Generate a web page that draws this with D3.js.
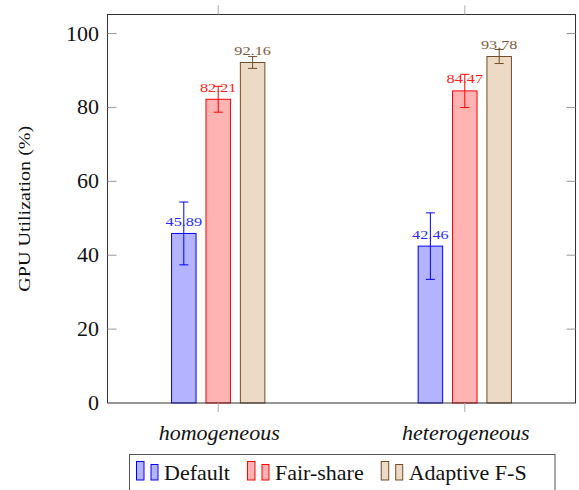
<!DOCTYPE html>
<html>
<head>
<meta charset="utf-8">
<script src="https://cdn.jsdelivr.net/npm/d3@7"></script>
<style>
  html, body { margin: 0; padding: 0; background: #fff; }
  svg { display: block; }
</style>
</head>
<body>
<svg id="chart" width="579" height="490"></svg>
<script>
// ---- data ----
const categories = ["homogeneous", "heterogeneous"];
const seriesNames = ["Default", "Fair-share", "Adaptive F-S"];
const defaultValues   = [45.89, 42.46];
const defaultErrors   = [8.5, 9.0];
const fairValues      = [82.21, 84.47];
const fairErrors      = [3.5, 4.5];
const adaptiveValues  = [92.16, 93.78];
const adaptiveErrors  = [1.6, 1.9];
const yTicks = [0, 20, 40, 60, 80, 100];

// ---- styles ----
const FONT = "Liberation Serif";
const strokes = ["#0000ff", "#ff0000", "#734d26"];
const fills   = ["#b3b3ff", "#ffb3b3", "#ecd9c6"];
const labelColors = ["#2a2aff", "#ff2020", "#7d5a3a"];

const series = [
  { name: seriesNames[0], values: defaultValues, errors: defaultErrors },
  { name: seriesNames[1], values: fairValues, errors: fairErrors },
  { name: seriesNames[2], values: adaptiveValues, errors: adaptiveErrors }
];

const svg = d3.select("#chart");
const L = 107.5, R = 575.5, T = 14.5, B = 403;

const y = d3.scaleLinear().domain([0, 105.15]).range([B, T]);
const x = d3.scalePoint().domain(categories).range([L, R]).padding(0.449);
const xs = d3.scaleBand().domain(seriesNames).range([-51.6, 51.6])
  .paddingInner(0.288).paddingOuter(0.144);

// small text, horizontally stretched (CM-like width)
function txtScaled(sel, px, py, sx, rot) {
  const t = sel.append("text").attr("font-family", FONT).attr("x", 0).attr("y", 0);
  t.attr("transform", `translate(${px},${py})` + (rot ? ` rotate(${rot})` : "") + ` scale(${sx},1)`);
  return t;
}
// plain text at position
function txt(sel, px, py) {
  return sel.append("text").attr("font-family", FONT).attr("x", px).attr("y", py);
}

// bars
const groups = svg.append("g").selectAll("g")
  .data(series).join("g");

groups.each(function(s, si) {
  const g = d3.select(this);
  categories.forEach((c, ci) => {
    const v = s.values[ci], e = s.errors[ci];
    const bx = x(c) + xs(s.name);
    const cx = bx + xs.bandwidth() / 2;
    g.append("rect")
      .attr("x", bx).attr("y", y(v))
      .attr("width", xs.bandwidth()).attr("height", y(0) - y(v))
      .attr("fill", fills[si]).attr("stroke", strokes[si]).attr("stroke-width", 1);
    g.append("line").attr("x1", cx).attr("x2", cx)
      .attr("y1", y(v - e)).attr("y2", y(v + e))
      .attr("stroke", strokes[si]).attr("stroke-width", 1);
    [v - e, v + e].forEach(ev => {
      g.append("line").attr("x1", cx - 4.5).attr("x2", cx + 4.5)
        .attr("y1", y(ev)).attr("y2", y(ev))
        .attr("stroke", strokes[si]).attr("stroke-width", 1);
    });
    txtScaled(g, cx, y(v) - 7.5, 1.25)
      .attr("text-anchor", "middle")
      .attr("font-size", 13)
      .attr("fill", labelColors[si])
      .text(v.toFixed(2));
  });
});

// frame
svg.append("rect")
  .attr("x", L).attr("y", T).attr("width", R - L).attr("height", B - T)
  .attr("fill", "none").attr("stroke", "#333").attr("stroke-width", 1);

// y ticks (inside, both sides)
const tickLen = 9;
yTicks.forEach(t => {
  if (t !== 0) {
    svg.append("line").attr("x1", L).attr("x2", L + tickLen)
      .attr("y1", y(t)).attr("y2", y(t)).attr("stroke", "#999").attr("stroke-width", 1);
    svg.append("line").attr("x1", R - tickLen).attr("x2", R)
      .attr("y1", y(t)).attr("y2", y(t)).attr("stroke", "#999").attr("stroke-width", 1);
  }
  txt(svg, 99, y(t) + 7)
    .attr("text-anchor", "end")
    .attr("font-size", 22)
    .attr("fill", "#111")
    .text(t);
});

// x ticks (outside, top and bottom)
categories.forEach(c => {
  svg.append("line").attr("x1", x(c)).attr("x2", x(c))
    .attr("y1", B).attr("y2", B + tickLen).attr("stroke", "#aaa").attr("stroke-width", 1);
  svg.append("line").attr("x1", x(c)).attr("x2", x(c))
    .attr("y1", T - tickLen).attr("y2", T).attr("stroke", "#aaa").attr("stroke-width", 1);
  txt(svg, x(c) + 1, 440)
    .attr("text-anchor", "middle")
    .attr("font-size", 22)
    .attr("font-style", "italic")
    .attr("fill", "#111")
    .text(c);
});

// y axis label
txtScaled(svg, 30, (T + B) / 2, 1.18, -90)
  .attr("text-anchor", "middle")
  .attr("font-size", 17)
  .attr("fill", "#111")
  .text("GPU Utilization (%)");

// legend
const leg = svg.append("g");
leg.append("rect")
  .attr("x", 129.5).attr("y", 454.5).attr("width", 425.5).attr("height", 50)
  .attr("fill", "#fff").attr("stroke", "#555").attr("stroke-width", 1);
let lx = 136;
series.forEach((s, si) => {
  leg.append("rect").attr("x", lx + 0.5).attr("y", 461.5).attr("width", 7.5).attr("height", 18.5)
    .attr("fill", fills[si]).attr("stroke", strokes[si]).attr("stroke-width", 1);
  leg.append("rect").attr("x", lx + 15).attr("y", 464.5).attr("width", 7).attr("height", 15.5)
    .attr("fill", fills[si]).attr("stroke", strokes[si]).attr("stroke-width", 1);
  const t = txt(leg, lx + 28, 480)
    .attr("font-size", 22)
    .attr("fill", "#111")
    .text(s.name);
  const w = t.node().getComputedTextLength();
  lx += 28 + w + 17;
});
</script>
</body>
</html>
